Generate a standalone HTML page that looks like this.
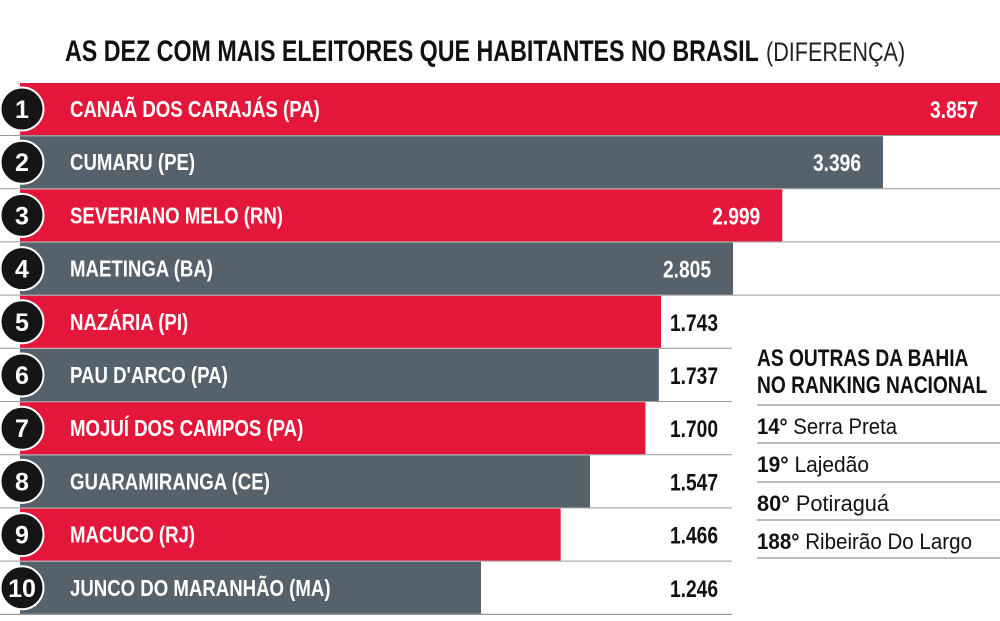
<!DOCTYPE html>
<html><head><meta charset="utf-8"><style>
html,body{margin:0;padding:0;background:#fff;width:1000px;height:621px;overflow:hidden}
svg{display:block;font-family:"Liberation Sans",sans-serif}
</style></head><body>
<svg id="chart" width="1000" height="621" viewBox="0 0 1000 621" xmlns="http://www.w3.org/2000/svg">
<g>
<text transform="translate(65,61) scale(0.775,1)" font-size="30" font-weight="bold" fill="#111">AS DEZ COM MAIS ELEITORES QUE HABITANTES NO BRASIL</text>
<text transform="translate(766,61) scale(0.8,1)" font-size="27" fill="#222">(DIFERENÇA)</text>
</g>
<g id="bars"></g>
<g>
<text transform="translate(757,366) scale(0.8,1)" font-size="24" font-weight="bold" fill="#111">AS OUTRAS DA BAHIA</text>
<text transform="translate(757,393) scale(0.8,1)" font-size="24" font-weight="bold" fill="#111">NO RANKING  NACIONAL</text>
<g id="bahia"></g>
</g>
</svg>
<script>
const names=["CANAÃ DOS CARAJÁS (PA)","CUMARU (PE)","SEVERIANO MELO (RN)","MAETINGA (BA)","NAZÁRIA (PI)","PAU D'ARCO (PA)","MOJUÍ DOS CAMPOS (PA)","GUARAMIRANGA (CE)","MACUCO (RJ)","JUNCO DO MARANHÃO  (MA)"];
const values=[3857,3396,2999,2805,1743,1737,1700,1547,1466,1246];
const labels=["3.857","3.396","2.999","2.805","1.743","1.737","1.700","1.547","1.466","1.246"];
const bahiaRanks=["14°","19°","80°","188°"];
const bahiaNames=["Serra Preta"," Lajedão","Potiraguá","Ribeirão Do Largo"];

// piecewise-linear scale (graphic is not to linear scale)
const dom=[1246,1743,2805,3857], rng=[481,661,733,1000];
function xScale(v){
  let i=0; while(i<dom.length-2 && v>dom[i+1]) i++;
  return rng[i]+(v-dom[i])*(rng[i+1]-rng[i])/(dom[i+1]-dom[i]);
}
const y0=83, pitch=53.2, bh=52;
function yScale(i){return y0+i*pitch;}
const NS="http://www.w3.org/2000/svg";
const g=document.getElementById('bars');
function mk(t,a,p){const e=document.createElementNS(NS,t);for(const k in a)e.setAttribute(k,a[k]);p.appendChild(e);return e;}
values.forEach((v,i)=>{
  const y=yScale(i), xe=xScale(v);
  const col=i%2===0?"#e4173a":"#55626b";
  const inside=xe>700;
  const line=mk('line',{x1:0,x2:inside?1000:732,y1:y+bh+0.5,y2:y+bh+0.5,stroke:"#9a9a9a","stroke-width":1},g);
  
  
  const r=mk('rect',{x:20,y:y,width:xe-20,height:bh,fill:col},g);
  
  
  const c=mk('circle',{cx:22,cy:y+bh/2,r:21.5,fill:"#151515",stroke:"#fff","stroke-width":2},g);
  
  
  const n=mk('text',{x:22,y:y+bh/2+9,"text-anchor":"middle","font-size":25,"font-weight":"bold",fill:"#fff"},g);
  n.textContent=i+1;
  
  
  const t=mk('text',{transform:`translate(70,${y+bh/2+8}) scale(0.81,1)`,"font-size":23,"font-weight":"bold",fill:"#fff"},g);
  t.textContent=names[i];
  
  
  const vx=inside?Math.min(xe-22,995):718;
  const vt=mk('text',{transform:`translate(${vx},${y+bh/2+9}) scale(0.8,1)`,"font-size":24,"font-weight":"bold","text-anchor":"end",fill:inside?"#fff":"#111"},g);
  vt.textContent=labels[i];
  
  
});
mk('line',{x1:0,x2:732,y1:614.5,y2:614.5,stroke:"#9a9a9a","stroke-width":1},g);
const bg=document.getElementById('bahia');
const ly=[405,443,482,520,558];
mk('line',{x1:757,x2:1000,y1:ly[0],y2:ly[0],stroke:"#777","stroke-width":1},bg);
bahiaRanks.forEach((rk,i)=>{
  const t=mk('text',{x:757,y:ly[i]+29,"font-size":22,fill:"#111"},bg);
  
  
  const a=mk('tspan',{"font-weight":"bold"},t);a.textContent=rk+" ";
  const b=mk('tspan',{},t);b.textContent=bahiaNames[i];
  t.setAttribute('textLength',[140,112,132,215][i]);
  t.setAttribute('lengthAdjust','spacingAndGlyphs');
  mk('line',{x1:757,x2:1000,y1:ly[i+1],y2:ly[i+1],stroke:"#777","stroke-width":1},bg);
});
</script>
</body></html>
